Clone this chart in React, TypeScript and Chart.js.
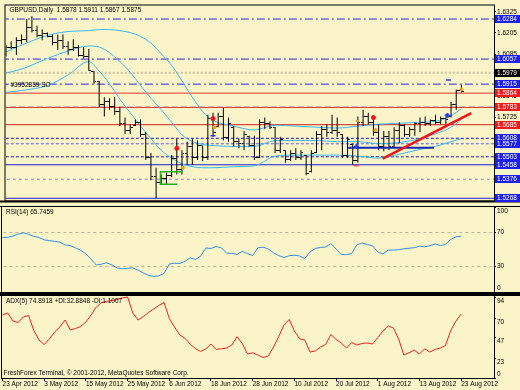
import React, { useEffect, useRef } from 'react';
import { Chart, registerables } from 'chart.js';

Chart.register(...registerables);

const FONT = '"Liberation Sans", Arial, sans-serif';
const BG = '#FBF4C9';

// ---------------- text ----------------
const TITLE = 'GBPUSD,Daily  1.5878 1.5911 1.5867 1.5875';
const OBJECT_LABEL = '#3952839 SO';
const RSI_TITLE = 'RSI(14) 65.7459';
const ADX_TITLE = 'ADX(5) 74.8918 +DI:32.8848 -DI:1.1007';
const FOOTER = 'FreshForex Terminal, \u00A9 2001-2012, MetaQuotes Software Corp.';

// ---------------- x axis ----------------
const DATE_LABELS = ['23 Apr 2012', '3 May 2012', '15 May 2012', '25 May 2012', '6 Jun 2012', '18 Jun 2012', '28 Jun 2012', '10 Jul 2012', '20 Jul 2012', '1 Aug 2012', '13 Aug 2012', '23 Aug 2012'];
const DATE_LABEL_EVERY = 8;
const X_MIN = -0.1;
const X_MAX = 94.3;

// ---------------- price bars (one per trading day) ----------------
const OPEN = [1.6085, 1.6125, 1.6120, 1.6165, 1.6170, 1.6235, 1.6220, 1.6190, 1.6200, 1.6185,
  1.6150, 1.6160, 1.6130, 1.6110, 1.6125, 1.6080, 1.6070, 1.5985, 1.5930, 1.5800,
  1.5815, 1.5790, 1.5760, 1.5690, 1.5650, 1.5680, 1.5700, 1.5630, 1.5500, 1.5390,
  1.5360, 1.5380, 1.5400, 1.5495, 1.5430, 1.5520, 1.5560, 1.5500, 1.5565, 1.5500,
  1.5720, 1.5675, 1.5730, 1.5610, 1.5670, 1.5590, 1.5580, 1.5620, 1.5570, 1.5500,
  1.5700, 1.5690, 1.5670, 1.5540, 1.5540, 1.5490, 1.5520, 1.5500, 1.5510, 1.5420,
  1.5525, 1.5630, 1.5660, 1.5640, 1.5650, 1.5630, 1.5510, 1.5575, 1.5480, 1.5700,
  1.5730, 1.5700, 1.5640, 1.5560, 1.5620, 1.5560, 1.5650, 1.5680, 1.5630, 1.5660,
  1.5690, 1.5700, 1.5690, 1.5710, 1.5700, 1.5720, 1.5730, 1.5800, 1.5878];
const HIGH = [1.6136, 1.6158, 1.6180, 1.6196, 1.6284, 1.6300, 1.6246, 1.6224, 1.6207, 1.6196,
  1.6196, 1.6196, 1.6158, 1.6169, 1.6136, 1.6125, 1.6114, 1.5989, 1.5934, 1.5841,
  1.5835, 1.5841, 1.5786, 1.5726, 1.5688, 1.5715, 1.5715, 1.5644, 1.5524, 1.5441,
  1.5403, 1.5414, 1.5513, 1.5606, 1.5540, 1.5589, 1.5606, 1.5595, 1.5567, 1.5742,
  1.5753, 1.5753, 1.5781, 1.5726, 1.5677, 1.5606, 1.5649, 1.5622, 1.5622, 1.5715,
  1.5726, 1.5704, 1.5671, 1.5617, 1.5540, 1.5540, 1.5551, 1.5540, 1.5513, 1.5540,
  1.5649, 1.5677, 1.5688, 1.5742, 1.5726, 1.5633, 1.5617, 1.5578, 1.5731, 1.5770,
  1.5753, 1.5726, 1.5688, 1.5649, 1.5649, 1.5671, 1.5699, 1.5688, 1.5671, 1.5699,
  1.5726, 1.5731, 1.5715, 1.5742, 1.5731, 1.5726, 1.5814, 1.5885, 1.5911];
const LOW = [1.6071, 1.6114, 1.6082, 1.6142, 1.6153, 1.6207, 1.6180, 1.6164, 1.6180, 1.6136,
  1.6109, 1.6114, 1.6082, 1.6103, 1.6071, 1.6060, 1.5989, 1.5917, 1.5786, 1.5731,
  1.5770, 1.5742, 1.5677, 1.5633, 1.5633, 1.5677, 1.5617, 1.5485, 1.5370, 1.5268,
  1.5348, 1.5343, 1.5387, 1.5403, 1.5403, 1.5458, 1.5458, 1.5485, 1.5480, 1.5485,
  1.5617, 1.5671, 1.5595, 1.5589, 1.5562, 1.5551, 1.5540, 1.5562, 1.5485, 1.5496,
  1.5660, 1.5660, 1.5524, 1.5524, 1.5469, 1.5480, 1.5485, 1.5485, 1.5398, 1.5414,
  1.5524, 1.5540, 1.5617, 1.5633, 1.5617, 1.5496, 1.5496, 1.5458, 1.5469, 1.5677,
  1.5688, 1.5622, 1.5540, 1.5534, 1.5540, 1.5551, 1.5578, 1.5617, 1.5617, 1.5622,
  1.5644, 1.5677, 1.5677, 1.5688, 1.5688, 1.5688, 1.5726, 1.5770, 1.5867];
const CLOSE = [1.6125, 1.6120, 1.6165, 1.6170, 1.6235, 1.6220, 1.6190, 1.6200, 1.6185, 1.6150,
  1.6160, 1.6130, 1.6110, 1.6125, 1.6080, 1.6070, 1.5995, 1.5930, 1.5800, 1.5815,
  1.5790, 1.5760, 1.5690, 1.5650, 1.5670, 1.5700, 1.5630, 1.5500, 1.5390, 1.5360,
  1.5380, 1.5400, 1.5495, 1.5430, 1.5520, 1.5560, 1.5500, 1.5570, 1.5500, 1.5720,
  1.5640, 1.5730, 1.5610, 1.5690, 1.5590, 1.5580, 1.5630, 1.5570, 1.5500, 1.5700,
  1.5690, 1.5670, 1.5540, 1.5600, 1.5490, 1.5520, 1.5500, 1.5530, 1.5410, 1.5520,
  1.5630, 1.5660, 1.5640, 1.5650, 1.5640, 1.5510, 1.5600, 1.5480, 1.5700, 1.5730,
  1.5700, 1.5640, 1.5560, 1.5620, 1.5560, 1.5650, 1.5680, 1.5630, 1.5660, 1.5690,
  1.5700, 1.5690, 1.5710, 1.5700, 1.5720, 1.5715, 1.5800, 1.5878, 1.5875];

// ---------------- Bollinger bands (read at these bar indices) ----------------
const BB_INDEX = [0, 3, 8, 12, 16, 18, 20, 22, 24, 26, 28, 30, 32, 34, 36, 38, 40, 44, 48, 52, 56, 60, 64, 68, 72, 76, 80, 83, 86, 88];
const BB_UPPER = [1.6098, 1.6136, 1.6191, 1.6213, 1.6218, 1.6224, 1.6224, 1.6218, 1.6207, 1.6186, 1.6147, 1.6087, 1.6021, 1.5934, 1.5841, 1.5759, 1.5710, 1.5677, 1.5655, 1.5682, 1.5677, 1.5671, 1.5666, 1.5677, 1.5688, 1.5693, 1.5699, 1.5704, 1.5737, 1.5775];
const BB_MIDDLE = [1.5978, 1.6000, 1.6060, 1.6103, 1.6131, 1.6125, 1.6093, 1.6043, 1.5983, 1.5907, 1.5835, 1.5770, 1.5699, 1.5628, 1.5589, 1.5573, 1.5567, 1.5562, 1.5562, 1.5595, 1.5595, 1.5595, 1.5589, 1.5589, 1.5578, 1.5584, 1.5606, 1.5633, 1.5671, 1.5715];
const BB_LOWER = [1.5868, 1.5879, 1.5907, 1.5967, 1.6043, 1.5989, 1.5917, 1.5830, 1.5753, 1.5677, 1.5606, 1.5540, 1.5496, 1.5463, 1.5447, 1.5441, 1.5441, 1.5447, 1.5452, 1.5507, 1.5513, 1.5513, 1.5513, 1.5507, 1.5496, 1.5518, 1.5545, 1.5562, 1.5589, 1.5606];

// ---------------- horizontal price levels ----------------
const LEVEL_PRICES = [1.6284, 1.6057, 1.5979, 1.5915, 1.5864, 1.5783, 1.5685, 1.5608, 1.5577, 1.5503, 1.5458, 1.5376, 1.5268];
const GRAY_LEVEL = 1.5788;
const PRICE_TICKS = [1.6325, 1.6205, 1.6085, 1.5965, 1.5845, 1.5725, 1.5605, 1.5485, 1.5365];
const PRICE_MIN = 1.52555;
const PRICE_MAX = 1.63606;

// ---------------- drawn objects ----------------
const TREND_X = [72.8, 89.9];
const TREND_Y = [1.5493, 1.5751];
const SUPPORT_X = [66.1, 82.7];
const SUPPORT_Y = 1.5555;
const BOX_LEFT_X = 29.85;
const BOX_TOP = { x: 34.07, y: 1.5418 };
const BOX_BOTTOM = { x: 33.1, y: 1.5348 };

const MARK_X = [33.0, 34.2, 40.0, 40.3, 40.0, 67.7, 67.7, 67.9, 71.0, 71.4, 85.3, 88.0, 85.5];
const MARK_Y = [1.5551, 1.5441, 1.5720, 1.5671, 1.5622, 1.5562, 1.5452, 1.5706, 1.5726, 1.5655, 1.5737, 1.5885, 1.5939];
const MARK_KIND = ['up', 'dot', 'up', 'dot', 'dash', 'cross', 'rdash', 'odash', 'up', 'dot', 'diamond', 'dot', 'dash'];

// ---------------- indicators ----------------
const RSI = [63.9, 64.4, 65.9, 68.1, 69.6, 67.9, 65.5, 64.1, 61.3, 60.5,
  59.5, 58.6, 55.3, 54.7, 51.9, 49.2, 44.8, 38.8, 31.8, 32.8,
  34.4, 31.8, 28.2, 27.4, 27.8, 28.4, 25.8, 22.6, 19.6, 18.2,
  19.1, 21.8, 32.9, 33.9, 33.5, 36.1, 40.2, 38.2, 42.0, 51.8,
  51.2, 53.5, 51.8, 45.9, 45.3, 44.1, 47.9, 45.1, 42.9, 52.0,
  52.7, 50.6, 46.1, 42.9, 40.6, 42.7, 43.2, 42.4, 39.4, 47.1,
  51.2, 52.4, 52.9, 56.8, 50.6, 44.1, 43.9, 45.3, 55.5, 57.5,
  55.9, 54.4, 47.1, 44.7, 49.4, 49.3, 49.8, 50.8, 51.5, 52.1,
  53.8, 53.2, 54.5, 56.4, 54.7, 55.9, 61.8, 64.9, 65.7];
const RSI_LEVELS = [70, 30];
const RSI_TICKS = [100, 70, 30, 0];

const ADX = [73.8, 76.1, 66.7, 65.0, 71.4, 73.2, 55.6, 44.5, 39.2, 45.7,
  53.9, 59.7, 67.9, 56.2, 58.0, 60.3, 65.6, 73.8, 83.1, 88.4,
  89.8, 90.7, 91.9, 93.7, 94.8, 76.1, 67.9, 71.8, 76.7, 80.8,
  84.9, 88.4, 69.7, 59.7, 50.4, 46.5, 39.8, 34.5, 31.0, 34.0,
  39.8, 33.4, 34.2, 35.1, 38.6, 48.4, 40.4, 28.1, 29.5, 26.9,
  24.0, 25.8, 36.3, 48.6, 62.1, 68.5, 55.0, 45.9, 44.5, 30.4,
  31.6, 36.3, 39.2, 50.9, 45.1, 41.0, 35.1, 41.6, 38.6, 40.4,
  41.0, 39.8, 47.4, 55.0, 60.9, 58.5, 45.7, 26.9, 29.6, 32.6,
  28.1, 34.2, 30.4, 33.4, 35.1, 38.1, 55.6, 66.7, 74.9];
const ADX_TICKS = [94, 70, 47, 23, 0];
const ADX_MAX = 96;

// ---------------- styles ----------------
const BLUE_DD = { line: '#2626D6', dash: [8, 3, 2, 3], width: 1, box: '#1E1EF0' };
const RED_SOLID = { line: '#E53232', dash: [], width: 1, box: '#F01C1C' };
const LEVEL_STYLES = [
  BLUE_DD, BLUE_DD,
  { line: '#CCC3A2', dash: [2, 2], width: 2, box: '#000000' },
  BLUE_DD,
  RED_SOLID, RED_SOLID, { line: '#D41E1E', dash: [], width: 1, box: '#F01C1C' },
  { line: '#1A1AC4', dash: [3, 2], width: 1, box: '#1E1EF0' },
  { line: '#5A5AE2', dash: [3, 2], width: 1, box: '#1E1EF0' },
  { line: '#1A1AC4', dash: [3, 2], width: 1, box: '#1E1EF0' },
  { line: '#2020D4', dash: [], width: 1, box: '#1E1EF0' },
  { line: '#8A86C6', dash: [3, 3], width: 1, box: '#1E1EF0' },
  { line: '#2020D4', dash: [], width: 1, box: '#1E1EF0' },
];
const BAND_COLOR = '#3AB9EF';
const MARK_STYLE: Record<string, any> = {
  up: { pointStyle: 'star', radius: 2.5, color: '#F01818', border: 1.5 },
  dot: { pointStyle: 'circle', radius: 1.5, color: '#F0A020', border: 1 },
  dash: { pointStyle: 'line', radius: 2.5, color: '#2040F0', border: 1.5 },
  cross: { pointStyle: 'cross', radius: 2.5, color: '#2040F0', border: 1.5 },
  rdash: { pointStyle: 'line', radius: 2.5, color: '#F05050', border: 1.5 },
  odash: { pointStyle: 'line', radius: 2, color: '#F0A020', border: 1.5 },
  diamond: { pointStyle: 'rectRot', radius: 2.5, color: '#2040F0', border: 1 },
};

const baseOptions = {
  animation: false as const,
  responsive: false,
  devicePixelRatio: 1,
  events: [] as any[],
  plugins: { legend: { display: false }, tooltip: { enabled: false } },
};

function hLine(y: number, color: string, dash: number[], width: number, order: number) {
  return {
    type: 'line' as const,
    data: [{ x: -1, y }, { x: 100, y }],
    borderColor: color,
    borderDash: dash,
    borderWidth: width,
    pointRadius: 0,
    order,
  };
}

function tickImage(side: 'left' | 'right') {
  const c = document.createElement('canvas');
  c.width = 5;
  c.height = 1;
  const g = c.getContext('2d')!;
  g.fillStyle = '#000';
  if (side === 'left') g.fillRect(0, 0, 2, 1);
  else g.fillRect(3, 0, 2, 1);
  return c;
}

const yAxisRight = (min: number, max: number, ticks: number[], showLabels: boolean) => ({
  type: 'linear' as const,
  position: 'right' as const,
  min,
  max,
  afterBuildTicks: (s: any) => { s.ticks = ticks.map((v) => ({ value: v })); },
  afterFit: (s: any) => { s.width = 26; s.paddingTop = 0; s.paddingBottom = 0; },
  ticks: {
    display: showLabels,
    autoSkip: false,
    padding: 1,
    color: '#000',
    font: { family: FONT, size: 6.5 },
    callback: (v: any) => Number(v).toFixed(4),
  },
  grid: { drawOnChartArea: false, tickLength: 2, color: '#000' },
  border: { display: false },
});

function mainConfig(): any {
  const openImg = tickImage('left');
  const closeImg = tickImage('right');
  const datasets: any[] = [];
  LEVEL_PRICES.forEach((p, k) => {
    const s = LEVEL_STYLES[k];
    datasets.push(hLine(p, s.line, s.dash, s.width, 20));
  });
  datasets.push(hLine(GRAY_LEVEL, '#C9C6BE', [6, 3], 1, 21));
  [BB_UPPER, BB_MIDDLE, BB_LOWER].forEach((band) => {
    datasets.push({
      type: 'line',
      data: BB_INDEX.map((x, k) => ({ x, y: band[k] })),
      borderColor: BAND_COLOR,
      borderWidth: 1,
      pointRadius: 0,
      cubicInterpolationMode: 'monotone',
      order: 15,
    });
  });
  datasets.push({
    type: 'bar',
    data: HIGH.map((h, i) => ({ x: i, y: [LOW[i], h] })),
    backgroundColor: '#000',
    borderWidth: 0,
    barThickness: 1,
    inflateAmount: 0,
    order: 10,
  });
  datasets.push({
    type: 'line', showLine: false,
    data: OPEN.map((o, i) => ({ x: i, y: o })),
    pointStyle: openImg, pointRadius: 2, order: 9,
  });
  datasets.push({
    type: 'line', showLine: false,
    data: CLOSE.map((c, i) => ({ x: i, y: c })),
    pointStyle: closeImg, pointRadius: 2, order: 9,
  });
  datasets.push({
    type: 'line',
    data: [{ x: BOX_TOP.x, y: BOX_TOP.y }, { x: BOX_LEFT_X, y: BOX_TOP.y }, { x: BOX_LEFT_X, y: BOX_BOTTOM.y }, { x: BOX_BOTTOM.x, y: BOX_BOTTOM.y }],
    borderColor: '#22B022', borderWidth: 1.5, pointRadius: 0, order: 5,
  });
  datasets.push({
    type: 'line',
    data: SUPPORT_X.map((x) => ({ x, y: SUPPORT_Y })),
    borderColor: '#1428B4', borderWidth: 2, pointRadius: 0, order: 5,
  });
  datasets.push({
    type: 'line',
    data: TREND_X.map((x, k) => ({ x, y: TREND_Y[k] })),
    borderColor: '#E81818', borderWidth: 2.5, pointRadius: 0, order: 4,
  });
  datasets.push({
    type: 'line', showLine: false,
    data: MARK_X.map((x, k) => ({ x, y: MARK_Y[k] })),
    pointStyle: MARK_KIND.map((k) => MARK_STYLE[k].pointStyle),
    pointRadius: MARK_KIND.map((k) => MARK_STYLE[k].radius),
    pointBorderColor: MARK_KIND.map((k) => MARK_STYLE[k].color),
    pointBackgroundColor: MARK_KIND.map((k) => MARK_STYLE[k].color),
    pointBorderWidth: MARK_KIND.map((k) => MARK_STYLE[k].border),
    order: 1,
  });

  const decor = {
    id: 'mainDecor',
    afterDraw(chart: any) {
      const { ctx, chartArea: a, width } = chart;
      const ys = chart.scales.y;
      ctx.save();
      ctx.strokeStyle = '#000';
      ctx.lineWidth = 1;
      ctx.strokeRect(a.left - 0.5, a.top - 0.5, a.right - a.left + 1, a.bottom - a.top + 1);
      ctx.fillStyle = '#000';
      ctx.fillRect(0, a.bottom, width, 2);
      ctx.font = `6.5px ${FONT}`;
      ctx.textBaseline = 'middle';
      ctx.textAlign = 'left';
      LEVEL_PRICES.forEach((p, k) => {
        const py = Math.round(ys.getPixelForValue(p));
        ctx.fillStyle = LEVEL_STYLES[k].box;
        ctx.fillRect(a.right + 1, py - 4, width - a.right - 1, 8);
        ctx.fillStyle = '#fff';
        ctx.fillText(p.toFixed(4), a.right + 3, py + 0.5);
      });
      ctx.fillStyle = '#000';
      ctx.fillText(TITLE, a.left + 4, a.top + 4.5);
      ctx.fillText(OBJECT_LABEL, a.left + 5, ys.getPixelForValue(LEVEL_PRICES[3]) + 1);
      ctx.restore();
    },
  };

  return {
    type: 'bar',
    data: { datasets },
    options: {
      ...baseOptions,
      layout: { padding: { left: 2, top: 2, right: 0, bottom: 2 } },
      scales: {
        x: { type: 'linear', display: false, min: X_MIN, max: X_MAX, offset: false },
        y: yAxisRight(PRICE_MIN, PRICE_MAX, PRICE_TICKS, true),
      },
    },
    plugins: [decor],
  };
}

function subDecor(title: string, labelOffset: number, sepTop: number, sepBottom: number, footer?: string) {
  return {
    id: 'subDecor',
    afterDraw(chart: any) {
      const { ctx, chartArea: a, width } = chart;
      const ys = chart.scales.y;
      ctx.save();
      ctx.strokeStyle = '#000';
      ctx.lineWidth = 1;
      ctx.strokeRect(a.left - 0.5, a.top - 0.5, a.right - a.left + 1, a.bottom - a.top + 1);
      ctx.fillStyle = '#000';
      if (sepTop) ctx.fillRect(0, a.top - sepTop, width, sepTop);
      if (sepBottom) ctx.fillRect(0, a.bottom, width, sepBottom);
      ctx.font = `6.5px ${FONT}`;
      ctx.textBaseline = 'middle';
      ctx.textAlign = 'left';
      ys.ticks.forEach((t: any) => {
        let py = ys.getPixelForValue(t.value) + labelOffset;
        py = Math.max(a.top + 4, Math.min(a.bottom - 4, py));
        ctx.fillText(String(t.value), a.right + 3, py);
      });
      ctx.fillText(title, a.left + 4, a.top + 5.5);
      if (footer) ctx.fillText(footer, a.left + 1.5, a.bottom - 5);
      ctx.restore();
    },
  };
}

function rsiConfig(): any {
  return {
    type: 'line',
    data: {
      datasets: [
        ...RSI_LEVELS.map((v) => hLine(v, '#BFB79C', [3, 3], 1, 5)),
        { data: RSI.map((v, i) => ({ x: i, y: v })), borderColor: '#2F8FE6', borderWidth: 1, pointRadius: 0, order: 1 },
      ],
    },
    options: {
      ...baseOptions,
      layout: { padding: { left: 2, top: 1, right: 0, bottom: 2 } },
      scales: {
        x: { type: 'linear', display: false, min: X_MIN, max: X_MAX },
        y: yAxisRight(0, 100, RSI_TICKS, false),
      },
    },
    plugins: [subDecor(RSI_TITLE, 0, 1, 2)],
  };
}

function adxConfig(): any {
  return {
    type: 'line',
    data: {
      datasets: [
        { data: ADX.map((v, i) => ({ x: i, y: v })), borderColor: '#F01E1E', borderWidth: 1, pointRadius: 0 },
      ],
    },
    options: {
      ...baseOptions,
      layout: { padding: { left: 2, top: 2, right: 0, bottom: 0 } },
      scales: {
        x: {
          type: 'linear',
          min: X_MIN,
          max: X_MAX,
          afterBuildTicks: (s: any) => { s.ticks = DATE_LABELS.map((_, k) => ({ value: k * DATE_LABEL_EVERY })); },
          afterFit: (s: any) => { s.height = 12; s.paddingLeft = 0; s.paddingRight = 0; },
          ticks: {
            autoSkip: false,
            maxRotation: 0,
            align: 'start',
            padding: 0,
            color: '#000',
            font: { family: FONT, size: 6.5, lineHeight: 1 },
            callback: (_v: any, i: number) => DATE_LABELS[i],
          },
          grid: { drawOnChartArea: false, tickLength: 3, color: '#000' },
          border: { display: false },
        },
        y: yAxisRight(0, ADX_MAX, ADX_TICKS, false),
      },
    },
    plugins: [subDecor(ADX_TITLE, 3.5, 2, 0, FOOTER)],
  };
}

export default function App() {
  const mainRef = useRef<HTMLCanvasElement>(null);
  const rsiRef = useRef<HTMLCanvasElement>(null);
  const adxRef = useRef<HTMLCanvasElement>(null);

  useEffect(() => {
    const charts = [
      new Chart(mainRef.current!, mainConfig()),
      new Chart(rsiRef.current!, rsiConfig()),
      new Chart(adxRef.current!, adxConfig()),
    ];
    return () => charts.forEach((c) => c.destroy());
  }, []);

  return (
    <div style={{ position: 'absolute', left: 0, top: 0, width: 520, height: 390, background: BG, overflow: 'hidden' }}>
      <canvas ref={mainRef} width={520} height={206} style={{ position: 'absolute', left: 0, top: 0, width: 520, height: 206 }} />
      <canvas ref={rsiRef} width={520} height={88} style={{ position: 'absolute', left: 0, top: 206, width: 520, height: 88 }} />
      <canvas ref={adxRef} width={520} height={96} style={{ position: 'absolute', left: 0, top: 294, width: 520, height: 96 }} />
    </div>
  );
}
